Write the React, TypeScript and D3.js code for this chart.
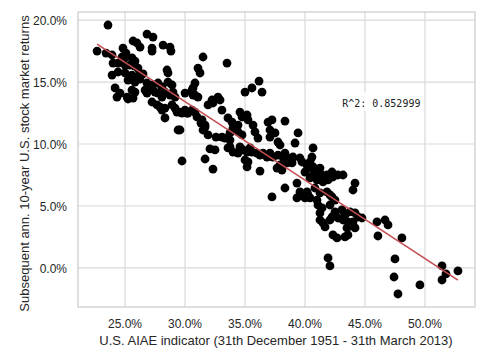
import React from "react";
import * as d3 from "d3";

const aiae: number[] = [
  23.58,22.67,26.83,27.33,25.67,26.00,26.25,27.25,27.25,28.17,
  28.75,28.83,23.42,23.92,24.83,25.08,24.75,25.08,25.58,25.83,
  24.00,24.42,25.00,25.42,25.83,26.08,24.42,23.92,25.00,25.58,
  26.08,26.50,28.50,28.58,25.25,25.83,26.25,26.83,27.08,27.33,
  27.75,28.08,28.58,28.92,24.17,24.58,24.33,25.17,25.58,25.83,
  25.67,25.25,26.67,26.83,27.50,27.75,28.08,28.33,28.75,29.00,
  29.17,27.25,27.67,27.92,28.08,28.33,28.92,29.17,29.33,29.75,
  30.00,30.25,30.58,30.58,30.67,30.00,28.33,29.42,31.33,31.67,
  31.92,32.58,29.75,31.67,32.33,32.08,32.50,31.50,33.50,31.08,
  31.25,30.83,30.67,30.83,31.08,29.58,30.17,30.83,32.25,32.75,
  32.92,31.92,32.33,33.08,35.00,35.58,36.17,36.42,31.00,31.42,
  31.67,31.50,29.58,33.58,33.92,34.00,33.75,34.42,34.58,34.75,
  35.17,35.25,34.42,34.75,33.08,33.33,33.75,35.67,35.83,36.08,
  36.92,37.25,37.08,37.08,37.50,38.33,37.75,37.92,33.75,34.58,
  34.83,35.17,35.42,35.58,36.00,36.25,36.50,36.83,37.33,38.17,
  39.42,39.17,37.08,37.75,38.33,38.58,38.75,37.92,37.67,38.08,
  39.75,40.67,40.58,40.42,40.17,40.25,40.00,40.67,41.00,41.25,
  41.42,40.67,40.42,41.00,41.50,41.92,42.25,42.33,42.75,43.17,
  41.83,44.17,44.00,39.33,39.58,39.33,38.33,37.25,40.17,40.25,
  40.00,40.42,40.83,41.25,41.00,41.08,41.42,41.25,41.83,42.25,
  42.50,42.08,43.08,43.33,43.75,44.17,44.42,44.75,41.25,42.08,
  42.75,35.17,36.25,35.00,35.25,34.00,34.42,33.58,36.92,38.50,
  38.92,41.50,41.67,42.33,42.67,43.33,43.58,41.92,42.08,42.50,
  42.25,43.17,43.58,44.00,43.50,44.17,42.08,46.00,46.67,46.92,
  46.08,48.08,47.50,47.42,47.75,49.58,51.42,51.75,51.42,52.75,
  39.58,39.00,
];

const returns10y: number[] = [
  19.60,17.50,18.87,18.63,18.31,18.15,17.82,17.74,17.50,17.98,
  17.82,17.50,17.34,17.18,17.74,17.34,17.02,17.02,16.94,16.69,
  16.53,16.53,16.37,16.37,16.29,16.13,15.81,15.56,15.73,15.56,
  15.48,15.65,15.97,15.73,15.16,15.00,15.24,14.92,14.60,14.76,
  14.92,14.60,15.00,14.76,14.52,14.11,13.79,13.79,14.35,14.19,
  13.71,13.63,14.35,14.11,14.19,14.11,13.79,14.19,13.95,14.19,
  13.79,13.39,13.15,12.98,12.74,12.90,13.15,12.90,12.58,12.50,
  12.74,12.50,12.74,14.35,13.95,14.11,12.10,11.13,11.69,11.37,
  10.73,10.56,8.63,8.79,7.98,9.60,9.52,17.02,16.53,16.13,
  15.73,14.92,14.52,13.95,13.79,12.58,12.50,12.58,13.55,13.79,
  13.55,13.15,13.31,12.74,14.19,14.52,15.08,14.19,12.18,11.94,
  11.53,11.13,11.13,12.10,11.77,11.29,10.89,11.53,12.58,12.18,
  12.34,11.94,10.97,10.73,10.56,10.48,10.32,11.53,10.97,10.48,
  11.77,11.94,11.13,10.56,10.89,11.85,10.16,9.92,9.76,9.76,
  9.52,9.35,9.68,9.35,9.27,9.11,9.27,8.95,8.95,8.95,
  10.89,10.08,9.27,9.11,9.27,8.87,8.55,8.31,8.06,7.90,
  8.55,9.68,8.95,8.55,8.31,8.06,7.74,8.15,7.74,8.06,
  7.50,7.50,7.26,7.10,6.94,7.10,7.74,7.34,7.50,7.50,
  7.50,6.85,6.29,6.85,6.13,5.65,6.45,5.73,6.13,5.89,
  5.65,5.65,6.45,6.05,5.48,5.08,4.84,4.44,6.13,5.73,
  5.48,5.08,4.68,4.27,4.52,4.44,4.11,4.03,3.87,3.87,
  4.03,8.15,7.82,8.71,8.55,9.35,9.27,9.68,9.11,8.47,
  8.47,3.63,3.31,2.66,2.42,2.50,2.66,0.81,5.89,4.52,
  4.11,3.87,3.71,3.71,3.23,3.23,0.16,3.71,3.87,3.47,
  2.58,2.42,0.73,-0.73,-2.10,-1.37,0.16,-0.48,-0.97,-0.24,
  8.87,8.95,
];

const xTicks: number[] = [25, 30, 35, 40, 45, 50];
const yTicks: number[] = [0, 5, 10, 15, 20];
const xLabel = "U.S. AIAE indicator (31th December 1951 - 31th March 2013)";
const yLabel = "Subsequent ann. 10-year U.S. stock market returns";
const r2Label = "R^2: 0.852999";
const r2Pos: [number, number] = [43.1, 13.3];

export default function App() {
  const W = 484, H = 355;
  const L = 78, R = 475, T = 12, B = 307;
  const x = d3.scaleLinear().domain([21.08, 54.17]).range([L, R]);
  const y = d3.scaleLinear().domain([-3.15, 20.65]).range([B, T]);
  const pts = aiae.map((v, i) => [v, returns10y[i]] as [number, number]);

  const mx = d3.mean(aiae)!;
  const my = d3.mean(returns10y)!;
  let sxy = 0, sxx = 0;
  pts.forEach(([a, b]) => { sxy += (a - mx) * (b - my); sxx += (a - mx) * (a - mx); });
  const slope = sxy / sxx;
  const icpt = my - slope * mx;
  const [x0, x1] = d3.extent(aiae) as [number, number];
  const line = d3.line<number>().x((d) => x(d)).y((d) => y(icpt + slope * d));

  const fmt = (v: number) => v.toFixed(1) + "%";
  const font = "'Liberation Sans', Arial, sans-serif";
  const txt = "#262626";

  return (
    <svg width={W} height={H} style={{ position: "absolute", left: 0, top: 0, background: "#fff" }}>
      <rect x={0} y={0} width={W} height={H} fill="#fff" />
      {xTicks.map((t) => (
        <line key={"gx" + t} x1={x(t)} x2={x(t)} y1={T} y2={B} stroke="#d9d9d9" strokeWidth={1.2} />
      ))}
      {yTicks.map((t) => (
        <line key={"gy" + t} x1={L} x2={R} y1={y(t)} y2={y(t)} stroke="#d9d9d9" strokeWidth={1.2} />
      ))}
      <rect x={L} y={T} width={R - L} height={B - T} fill="none" stroke="#cccccc" strokeWidth={1.25} />
      {pts.map(([a, b], i) => (
        <circle key={i} cx={x(a)} cy={y(b)} r={4.4} fill="#000" />
      ))}
      <path d={line([x0, x1]) || ""} fill="none" stroke="#c44e52" strokeWidth={1.6} />
      <rect x={x(r2Pos[0]) - 5} y={y(r2Pos[1]) - 11} width={86} height={19} fill="#fff" />
      <text x={x(r2Pos[0])} y={y(r2Pos[1])} dominantBaseline="central" fontFamily="'DejaVu Sans Mono', monospace" fontSize={10} fill="#222">{r2Label}</text>
      {xTicks.map((t) => (
        <text key={"tx" + t} x={x(t)} y={328} textAnchor="middle" fontFamily={font} fontSize={12} fill={txt}>{fmt(t)}</text>
      ))}
      {yTicks.map((t) => (
        <text key={"ty" + t} x={67} y={y(t) + 1} textAnchor="end" dominantBaseline="central" fontFamily={font} fontSize={12} fill={txt}>{fmt(t)}</text>
      ))}
      <text x={276} y={345} textAnchor="middle" fontFamily={font} fontSize={13} fill={txt}>{xLabel}</text>
      <text transform={`translate(24,${(T + B) / 2 + 4}) rotate(-90)`} textAnchor="middle" dominantBaseline="central" fontFamily={font} fontSize={13} fill={txt}>{yLabel}</text>
    </svg>
  );
}
